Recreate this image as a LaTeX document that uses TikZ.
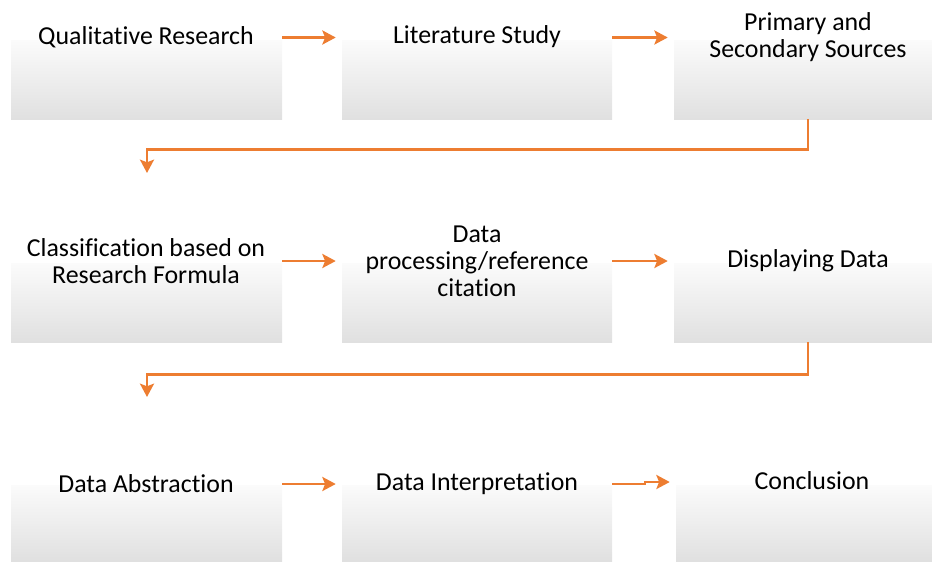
\documentclass[tikz,border=0pt]{standalone}
\usepackage{fontspec}
\setmainfont[Ligatures=NoCommon]{Carlito}
\usetikzlibrary{arrows.meta,calc}
\definecolor{flowline}{RGB}{237,125,49}
\definecolor{boxtop}{RGB}{251,251,251}
\definecolor{boxbottom}{RGB}{224,224,224}
\tikzset{
  stepbox/.style={rectangle, inner sep=0pt, top color=boxtop, bottom color=boxbottom, draw=none},
  steptext/.style={align=center, font=\fontsize{19.4}{20.3}\selectfont, text=black, inner sep=0pt},
  flow/.style={draw=flowline, line width=2pt, shorten >=4.5pt,
    -{Stealth[length=10pt, width=10.5pt, inset=2pt]}},
}
\begin{document}
\begin{tikzpicture}[x=0.75pt, y=-0.75pt]
\useasboundingbox (0,0) rectangle (932,561);
% boxes: width and height in px
\newcommand\boxat[5]{\node[stepbox, minimum width=#4*0.75pt, minimum height=#5*0.75pt] (#1) at (#2,#3) {};}
% row 1
\boxat{b1}{146.5}{79.5}{271}{79}
\boxat{b2}{477}{79.5}{270}{79}
\boxat{b3}{808}{79.5}{268}{79}
% row 2
\boxat{b4}{146.5}{302.5}{271}{79}
\boxat{b5}{477}{302.5}{270}{79}
\boxat{b6}{808}{302.5}{268}{79}
% row 3
\boxat{b7}{146.5}{523}{271}{76}
\boxat{b8}{477}{523}{270}{76}
\boxat{b9}{809}{523}{266}{76}
% labels
\node[steptext] (t1) at (146,37) {Qualitative Research};
\node[steptext] (t2) at (477,37) {Literature Study};
\node[steptext] (t3) at (808,37) {Primary and\\Secondary Sources};
\node[steptext] (t4) at (146,261) {Classification based on\\Research Formula};
\node[steptext] (t5) at (477,261) {Data\\processing/reference\\citation};
\node[steptext] (t6) at (808,261) {Displaying Data};
\node[steptext] (t7) at (146,484) {Data Abstraction};
\node[steptext] (t8) at (477,484) {Data Interpretation};
\node[steptext] (t9) at (812,481) {Conclusion};
% connectors
\coordinate (r1) at (0,37.5);
\coordinate (r2) at (0,261);
\coordinate (r3) at (0,484);
\draw[flow] (b1.east |- r1) -- (b2.west |- r1);
\draw[flow] (b2.east |- r1) -- (b3.west |- r1);
\draw[flow] (b4.east |- r2) -- (b5.west |- r2);
\draw[flow] (b5.east |- r2) -- (b6.west |- r2);
\draw[flow] (b7.east |- r3) -- (b8.west |- r3);
\coordinate (jog) at (645,482);
\draw[flow] (b8.east |- r3) -- (jog |- r3) -- (jog) -- (b9.west |- jog);
% row-to-row elbows
\coordinate (e1) at (147,179);
\coordinate (e2) at (147,403);
\draw[flow, line join=miter] (b3.south) -- ++(0,30) -| (e1);
\draw[flow, line join=miter] (b6.south) -- ++(0,32) -| (e2);
\end{tikzpicture}
\end{document}
